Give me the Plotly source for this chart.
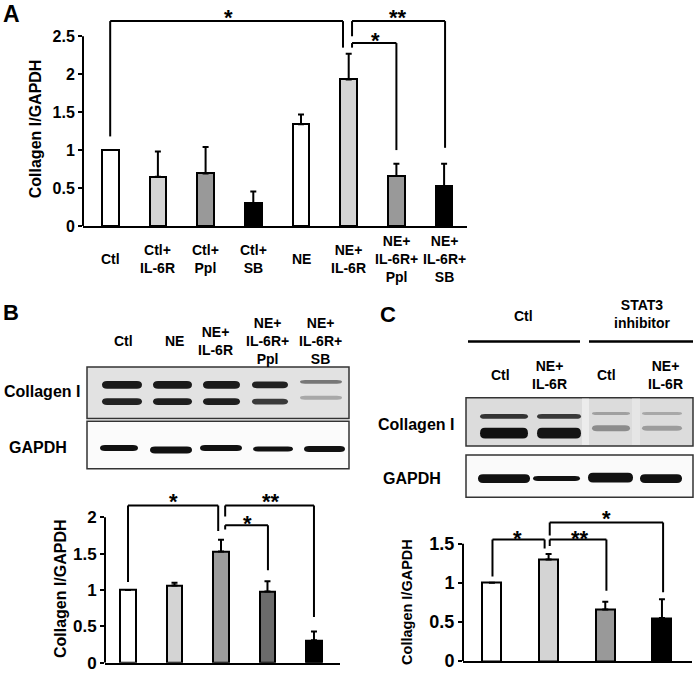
import plotly.graph_objects as go

W, H = 697, 679
FONT = "Liberation Sans"

# ---------------- data ----------------
a_labels = ["Ctl", "Ctl+<br>IL-6R", "Ctl+<br>Ppl", "Ctl+<br>SB", "NE",
            "NE+<br>IL-6R", "NE+<br>IL-6R+<br>Ppl", "NE+<br>IL-6R+<br>SB"]
a_values = [1.00, 0.65, 0.69, 0.30, 1.34, 1.93, 0.66, 0.52]
a_errors = [0.0, 0.33, 0.35, 0.155, 0.13, 0.34, 0.16, 0.30]
a_ticks = [0, 0.5, 1, 1.5, 2, 2.5]
a_ticktext = ["0", "0.5", "1", "1.5", "2", "2.5"]

b_lanes = ["Ctl", "NE", "NE+<br>IL-6R", "NE+<br>IL-6R+<br>Ppl", "NE+<br>IL-6R+<br>SB"]
b_values = [1.00, 1.06, 1.53, 0.98, 0.31]
b_errors = [0.0, 0.04, 0.16, 0.14, 0.12]
b_ticks = [0, 0.5, 1, 1.5, 2]
b_ticktext = ["0", "0.5", "1", "1.5", "2"]

c_groups = ["Ctl", "STAT3<br>inhibitor"]
c_lanes = ["Ctl", "NE+<br>IL-6R", "Ctl", "NE+<br>IL-6R"]
c_values = [1.00, 1.30, 0.66, 0.55]
c_errors = [0.0, 0.07, 0.10, 0.24]
c_ticks = [0, 0.5, 1, 1.5]
c_ticktext = ["0", "0.5", "1", "1.5"]

blot_rows = ["Collagen I", "GAPDH"]
y_title = "Collagen I/GAPDH"

# significance brackets: (x_start, x_end, y_top, y_left_end, y_right_end, label, label_x, label_y)
a_brackets = [
    (0.0, 4.88, 2.70, 1.18, 2.35, "*", 2.49, 2.82),
    (5.07, 7.02, 2.70, 2.50, 1.03, "**", 6.04, 2.82),
    (5.07, 6.00, 2.41, 2.35, 1.00, "*", 5.56, 2.52),
]
b_brackets = [
    (0.0, 1.94, 2.16, 1.11, 1.81, "*", 0.97, 2.30),
    (2.09, 4.00, 2.16, 2.01, 0.63, "**", 3.08, 2.30),
    (2.09, 3.01, 1.89, 1.83, 1.27, "*", 2.56, 2.00),
]
c_brackets = [
    (0.01, 0.93, 1.555, 1.08, 1.44, "*", 0.46, 1.65),
    (1.02, 3.02, 1.77, 1.605, 0.88, "*", 2.03, 1.90),
    (1.02, 2.02, 1.555, 1.47, 0.90, "**", 1.55, 1.65),
]

# ---------------- styles ----------------
a_colors = ["#ffffff", "#d4d4d4", "#999999", "#000000", "#ffffff", "#d4d4d4", "#999999", "#000000"]
b_colors = ["#ffffff", "#d4d4d4", "#9c9c9c", "#6b6b6b", "#000000"]
c_colors = ["#ffffff", "#d4d4d4", "#999999", "#000000"]


def X(px):
    return px / W


def Y(py):
    return 1 - py / H


fig = go.Figure()


def add_bars(values, errors, colors, xa, ya, width):
    n = len(values)
    fig.add_trace(go.Bar(
        x=list(range(n)), y=values, width=width,
        marker=dict(color=colors, line=dict(color="black", width=2)),
        error_y=dict(type="data", symmetric=False, array=errors, arrayminus=[0] * n,
                     color="black", thickness=2, width=3),
        xaxis=xa, yaxis=ya, showlegend=False, hoverinfo="skip"))


add_bars(a_values, a_errors, a_colors, "x", "y", 0.35)
add_bars(b_values, b_errors, b_colors, "x2", "y2", 0.34)
add_bars(c_values, c_errors, c_colors, "x3", "y3", 0.335)

shapes = []
annotations = []


def ann(text, x, y, size, xref="paper", yref="paper", **kw):
    d = dict(text=text, x=x, y=y, xref=xref, yref=yref, showarrow=False,
             font=dict(family=FONT, size=size, color="black", weight="bold"),
             xanchor="center", yanchor="middle", borderpad=0)
    d.update(kw)
    annotations.append(d)


def brackets(lst, xr, yr):
    for x0, x1, yt, yl, yrr, lab, lx, ly in lst:
        for (xa, ya, xb, yb) in [(x0, yl, x0, yt), (x0, yt, x1, yt), (x1, yt, x1, yrr)]:
            shapes.append(dict(type="line", xref=xr, yref=yr, x0=xa, y0=ya, x1=xb, y1=yb,
                               line=dict(color="black", width=2)))
        ann(lab, lx, ly, 22, xref=xr, yref=yr, yshift=-6)


brackets(a_brackets, "x", "y")
brackets(b_brackets, "x2", "y2")
brackets(c_brackets, "x3", "y3")

# y-axis lines (only up to top tick)
for xr, yr, top in [("x", "y", a_ticks[-1]), ("x2", "y2", b_ticks[-1]), ("x3", "y3", c_ticks[-1])]:
    shapes.append(dict(type="line", xref=xr + " domain", yref=yr, x0=0, x1=0, y0=0, y1=top,
                       line=dict(color="black", width=2)))

# A category labels
for i, lab in enumerate(a_labels):
    ann(lab, i, Y(262), 14, xref="x")

# y-axis titles
ann(y_title, X(35), Y(131), 16, textangle=-90)
ann(y_title, X(60), Y(597), 16, textangle=-90)
ann(y_title, X(407), Y(610), 14.5, textangle=-90)

# panel letters
ann("A", X(11), Y(14), 23)
ann("B", X(11), Y(317), 22)
ann("C", X(388), Y(319), 22)

# ---------------- blots (decorative) ----------------
def rect(x0, y0, x1, y1, fill, line="#333333", lw=1.5):
    shapes.append(dict(type="rect", xref="paper", yref="paper", x0=X(x0), x1=X(x1),
                       y0=Y(y1), y1=Y(y0), fillcolor=fill, line=dict(color=line, width=lw),
                       layer="above"))


def band(x0, x1, yc, h, color):
    r = min(5.0, (x1 - x0) / 4)
    t, b = yc - h / 2, yc + h / 2
    pts = (f"M{X(x0 + r)},{Y(t)} L{X(x1 - r)},{Y(t)} Q{X(x1)},{Y(t)} {X(x1)},{Y(yc)} "
           f"Q{X(x1)},{Y(b)} {X(x1 - r)},{Y(b)} L{X(x0 + r)},{Y(b)} "
           f"Q{X(x0)},{Y(b)} {X(x0)},{Y(yc)} Q{X(x0)},{Y(t)} {X(x0 + r)},{Y(t)} Z")
    shapes.append(dict(type="path", xref="paper", yref="paper", path=pts, fillcolor=color,
                       line=dict(width=0), layer="above"))


# Panel B blot
rect(87, 372, 349, 424, "#e2e2e2")
rect(87, 427, 349, 475, "#fbfbfb")
b_lx = [(102, 142), (153, 192), (203, 240), (252, 288), (300, 342)]
b_up = [(390, 8, "#1a1a1a"), (390, 8, "#1a1a1a"), (390, 8, "#1a1a1a"), (390, 7, "#222222"), (387, 4, "#777777")]
b_lo = [(407, 7, "#222222"), (407, 7, "#1e1e1e"), (407, 7, "#1e1e1e"), (407, 6, "#3a3a3a"), (403, 4, "#a8a8a8")]
for (x0, x1), (yu, hu, cu), (yl, hl, cl) in zip(b_lx, b_up, b_lo):
    band(x0, x1, yu, hu, cu)
    band(x0, x1, yl, hl, cl)
b_gx = [(100, 138), (150, 192), (200, 242), (253, 293), (304, 345)]
b_g = [(454, 6), (456, 7), (454, 6), (455, 5), (455, 6)]
for (x0, x1), (yc, h) in zip(b_gx, b_g):
    band(x0, x1, yc, h, "#111111")

b_label_x = [123, 174, 216, 267, 320]
for lab, x in zip(b_lanes, b_label_x):
    ann(lab, X(x), Y(346), 14)
ann(blot_rows[0], X(42), Y(397), 16)
ann(blot_rows[1], X(38), Y(454), 16)

# Panel C blot
rect(466, 403, 693, 452, "#dcdcdc")
shapes.append(dict(type="rect", xref="paper", yref="paper", x0=X(582), x1=X(589), y0=Y(451), y1=Y(404),
                   fillcolor="#ececec", line=dict(width=0), layer="above"))
shapes.append(dict(type="rect", xref="paper", yref="paper", x0=X(632), x1=X(640), y0=Y(451), y1=Y(404),
                   fillcolor="#e6e6e6", line=dict(width=0), layer="above"))
rect(466, 461, 693, 504, "#fafafa")
c_lx = [(480, 528), (537, 581), (592, 630), (642, 682)]
c_up = [(422, 5, "#333333"), (422, 5, "#383838"), (419, 3, "#a0a0a0"), (419, 3, "#a8a8a8")]
c_lo = [(439, 11, "#101010"), (439, 11, "#141414"), (434, 6, "#8c8c8c"), (434, 5, "#9c9c9c")]
for (x0, x1), (yu, hu, cu), (yl, hl, cl) in zip(c_lx, c_up, c_lo):
    band(x0, x1, yu, hu, cu)
    band(x0, x1, yl, hl, cl)
c_gx = [(478, 530), (533, 580), (588, 633), (640, 682)]
c_g = [(485, 9), (485, 5), (484, 10), (485, 9)]
for (x0, x1), (yc, h) in zip(c_gx, c_g):
    band(x0, x1, yc, h, "#111111")

# C headers
ann(c_groups[0], X(523), Y(320), 14)
ann(c_groups[1], X(642), Y(318), 14)
for x0, x1 in [(468, 580), (589, 693)]:
    shapes.append(dict(type="line", xref="paper", yref="paper", x0=X(x0), x1=X(x1), y0=Y(346), y1=Y(346),
                       line=dict(color="black", width=2.5)))
c_label_x = [500, 549, 606, 665]
for lab, x in zip(c_lanes, c_label_x):
    ann(lab, X(x), Y(380), 14)
ann(blot_rows[0], X(416), Y(430), 16)
ann(blot_rows[1], X(412), Y(485), 16)

# ---------------- axes ----------------
def xax(d0, d1, rng, anchor):
    return dict(domain=[X(d0), X(d1)], range=rng, showline=True, linecolor="black", linewidth=2,
                showticklabels=False, ticks="", showgrid=False, zeroline=False, anchor=anchor,
                fixedrange=True)


def yax(py0, pytop, rng, tv, tt, size, anchor):
    return dict(domain=[Y(py0), Y(pytop)], range=rng, showline=False, tickvals=tv, ticktext=tt,
                ticks="outside", ticklen=4, tickwidth=1.5, tickcolor="black",
                tickfont=dict(family=FONT, size=size, color="black", weight="bold"),
                showgrid=False, zeroline=False, anchor=anchor, fixedrange=True)


fig.update_layout(
    width=W, height=H, margin=dict(l=0, r=0, t=0, b=0),
    paper_bgcolor="white", plot_bgcolor="white",
    font=dict(family=FONT, color="black"),
    bargap=0,
    xaxis=xax(83, 467, [-0.57, 7.48], "y"),
    yaxis=yax(229, 229 - 2.95 * 76.9, [0, 2.95], a_ticks, a_ticktext, 16, "x"),
    xaxis2=xax(105, 340, [-0.495, 4.56], "y2"),
    yaxis2=yax(671.7, 671.7 - 2.35 * 73.8, [0, 2.35], b_ticks, b_ticktext, 17, "x2"),
    xaxis3=xax(463, 692, [-0.51, 3.53], "y3"),
    yaxis3=yax(670, 670 - 1.95 * 79.3, [0, 1.95], c_ticks, c_ticktext, 18, "x3"),
    shapes=shapes, annotations=annotations,
)

fig.write_html("out.html", config={"displayModeBar": False},
               post_script="document.body.style.margin='0';document.body.style.padding='0';"
                           "document.body.style.overflow='hidden';")
